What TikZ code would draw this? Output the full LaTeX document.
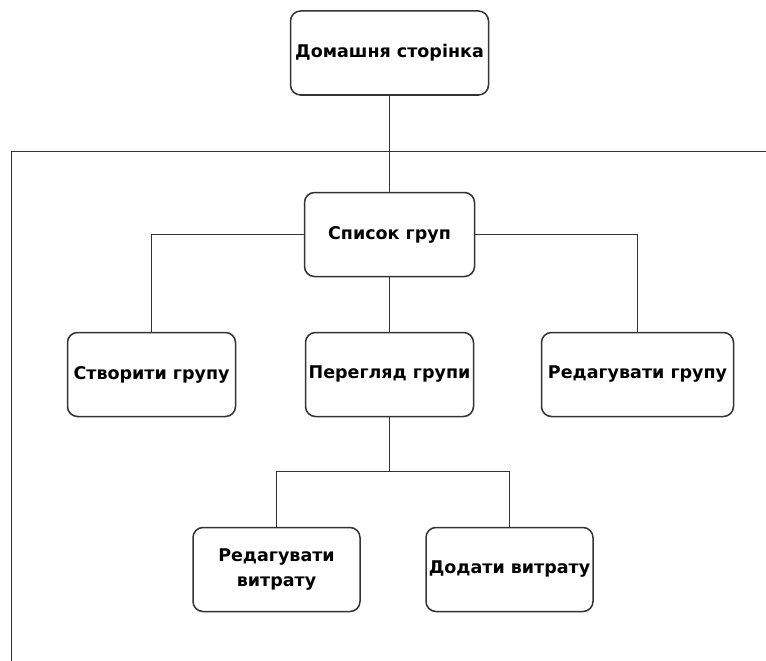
\documentclass[tikz,border=0pt]{standalone}
\usepackage{fontspec}
\setmainfont{DejaVu Sans}
\begin{document}
\begin{tikzpicture}[x=1pt,y=-1pt,
  page/.style={draw=black!80, line width=1.5pt, rounded corners=10pt,
    fill=white, align=center, inner sep=1pt,
    font=\fontsize{17.5}{25}\selectfont\bfseries},
  link/.style={draw=black!80, line width=1.5pt}]
\useasboundingbox (0,0) rectangle (766,661);

% site pages
\node[page, minimum width=198pt, minimum height=84pt] (home) at (389.5,53) {Домашня сторінка};
\node[page, minimum width=170pt, minimum height=84pt] (list) at (389.5,234.5) {Список груп};
\node[page, minimum width=168pt, minimum height=84pt] (create) at (151.5,374.5) {Створити групу};
\node[page, minimum width=168pt, minimum height=84pt] (view) at (389.5,374.5) {Перегляд групи};
\node[page, minimum width=192pt, minimum height=84pt] (editg) at (637.5,374.5) {Редагувати групу};
\node[page, minimum width=167pt, minimum height=84pt] (editexp) at (276.5,569.5) {Редагувати\\витрату};
\node[page, minimum width=167pt, minimum height=84pt] (addexp) at (509.5,569.5) {Додати витрату};

% outer frame line
\coordinate (frameR) at (766,151.5);
\coordinate (frameB) at (11.5,661);
\draw[link] (frameR) -| (frameB);

% connectors
\draw[link] (home.south) -- (list.north);
\draw[link] (list.west) -| (create.north);
\draw[link] (list.east) -| (editg.north);
\draw[link] (list.south) -- (view.north);
\coordinate (fork) at (389.5,471.5);
\draw[link] (view.south) -- (fork) -| (editexp.north);
\draw[link] (fork) -| (addexp.north);
\end{tikzpicture}
\end{document}
